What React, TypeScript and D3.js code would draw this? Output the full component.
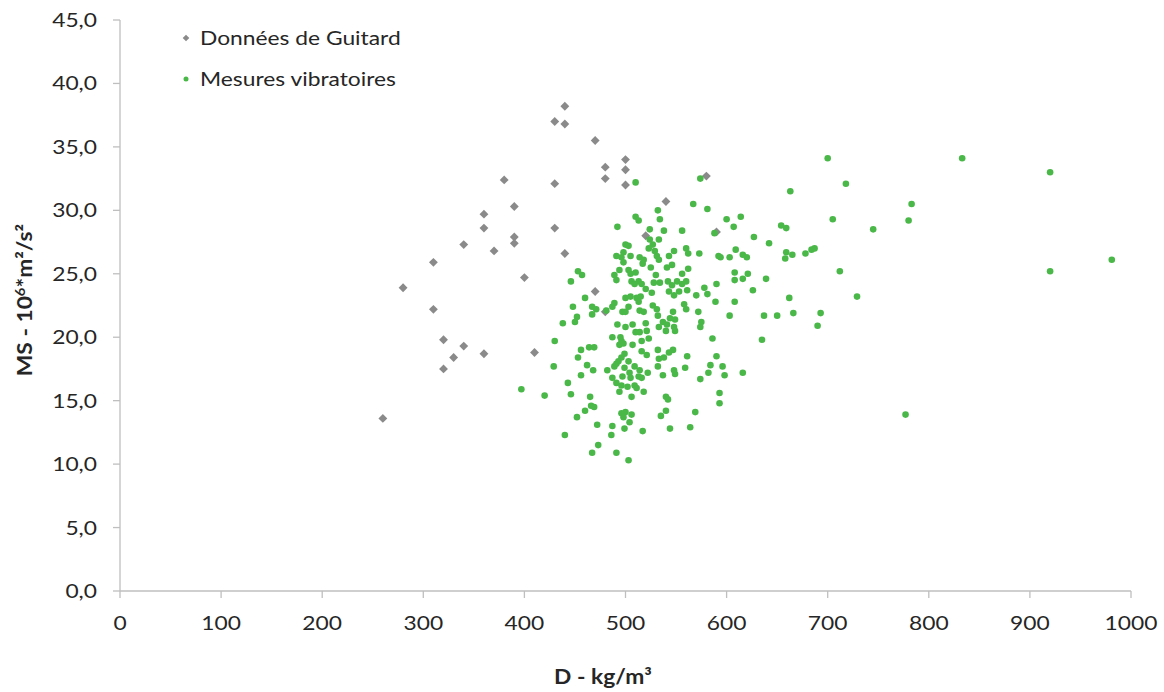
import React from "react";
import * as d3 from "d3";

const xTicks = [0, 100, 200, 300, 400, 500, 600, 700, 800, 900, 1000];
const yTicks = [0, 5, 10, 15, 20, 25, 30, 35, 40, 45];

const seriesNames = ["Données de Guitard", "Mesures vibratoires"];

const guitardPoints: [number, number][] = [
  [260, 13.6], [280, 23.9], [310, 25.9], [310, 22.2], [320, 19.8], [320, 17.5],
  [330, 18.4], [340, 19.3], [340, 27.3], [360, 29.7], [360, 28.6], [360, 18.7],
  [370, 26.8], [380, 32.4], [390, 30.3], [390, 27.9], [390, 27.4], [400, 24.7],
  [410, 18.8], [430, 37.0], [430, 32.1], [430, 28.6], [440, 38.2], [440, 36.8],
  [440, 26.6], [470, 35.5], [470, 23.6], [480, 33.4], [480, 32.5], [480, 22.0],
  [500, 34.0], [500, 33.2], [500, 32.0], [520, 28.0], [540, 30.7], [580, 32.7],
  [590, 28.3],
];

const vibratoirePoints: [number, number][] = [
  [438, 21.1], [430, 19.7], [429, 17.7], [397, 15.9], [420, 15.4], [443, 16.4], [440, 12.3],
  [510, 32.2], [574, 32.5], [567, 30.5], [581, 30.1], [532, 30.0], [510, 29.5], [513, 29.2],
  [534, 29.3], [492, 28.7], [524, 28.5], [538, 28.4], [556, 28.4], [588, 28.2], [533, 27.7],
  [524, 27.7], [500, 27.3], [503, 27.2], [527, 27.3], [523, 27.0], [529, 26.8], [498, 26.7],
  [548, 26.8], [560, 27.0], [562, 26.6], [573, 26.6], [592, 26.4], [491, 26.4], [496, 26.3],
  [505, 26.4], [531, 26.4], [543, 26.4], [514, 26.3], [518, 26.1], [533, 26.1], [498, 25.9],
  [517, 25.8], [546, 25.7], [541, 25.5], [525, 25.5], [562, 25.4], [494, 25.3], [503, 25.3],
  [510, 25.1], [453, 25.2], [457, 24.9], [556, 25.0], [530, 24.9], [489, 24.9], [491, 24.5],
  [505, 25.0], [506, 24.4], [513, 24.4], [516, 24.2], [528, 24.3], [534, 24.3], [542, 24.4],
  [546, 24.1], [551, 24.4], [556, 24.2], [560, 24.4], [590, 24.2], [509, 24.2], [520, 23.8],
  [526, 23.5], [543, 23.6], [548, 23.3], [553, 23.6], [561, 23.7], [570, 23.3], [578, 23.9],
  [581, 23.4], [446, 24.4], [460, 23.1], [500, 23.1], [505, 23.2], [511, 23.1], [515, 23.2],
  [513, 22.8], [489, 22.7], [487, 22.4], [448, 22.4], [467, 22.4], [471, 22.2], [467, 21.8],
  [481, 22.1], [497, 22.0], [500, 22.0], [503, 22.4], [514, 22.1], [518, 22.0], [527, 22.5],
  [531, 22.2], [532, 21.7], [558, 22.6], [560, 22.2], [547, 22.0], [572, 22.0], [589, 22.8],
  [452, 21.6], [450, 21.2], [492, 21.0], [500, 20.8], [507, 21.0], [514, 20.4], [520, 21.1],
  [521, 20.5], [510, 20.4], [533, 20.8], [537, 21.2], [541, 21.0], [544, 21.5], [549, 21.4],
  [548, 20.8], [549, 20.5], [540, 20.5], [575, 21.2], [574, 20.8], [487, 20.0], [495, 20.0],
  [496, 19.7], [494, 19.4], [498, 19.5], [507, 19.4], [516, 19.7], [523, 19.9], [586, 19.9],
  [456, 19.0], [464, 19.2], [469, 19.2], [453, 18.4], [516, 18.9], [521, 18.6], [532, 19.0],
  [533, 18.3], [538, 18.4], [543, 18.8], [547, 19.0], [561, 18.5], [590, 18.5], [496, 18.4],
  [493, 18.1], [503, 18.1], [499, 18.7], [489, 17.7], [491, 17.9], [482, 17.4], [499, 17.6],
  [509, 17.7], [514, 17.4], [522, 17.2], [532, 17.7], [548, 17.4], [549, 17.1], [559, 17.6],
  [584, 17.8], [582, 17.2], [462, 17.8], [468, 17.4], [456, 17.0], [487, 16.8], [497, 16.9],
  [504, 17.2], [505, 16.8], [513, 16.9], [516, 16.8], [491, 16.4], [496, 16.2], [502, 16.1],
  [509, 16.2], [511, 16.0], [537, 17.0], [574, 16.7], [446, 15.5], [494, 15.7], [518, 15.7],
  [506, 15.3], [540, 15.3], [542, 15.1], [593, 15.6], [593, 14.8], [465, 15.3], [466, 14.6],
  [469, 14.5], [460, 14.2], [452, 13.7], [496, 14.0], [500, 14.1], [498, 13.7], [506, 13.9],
  [504, 13.3], [499, 12.8], [540, 14.2], [535, 13.8], [544, 12.8], [564, 12.9], [569, 14.1],
  [472, 13.1], [487, 13.0], [486, 12.3], [517, 12.6], [473, 11.5], [467, 10.9], [491, 10.9],
  [503, 10.3],
  [700, 34.1], [663, 31.5], [705, 29.3], [600, 29.3], [614, 29.5], [607, 28.7], [627, 27.9],
  [654, 28.8], [659, 28.6], [642, 27.4], [609, 26.9], [603, 26.3], [594, 26.3], [616, 26.5],
  [620, 26.3], [659, 26.7], [665, 26.5], [658, 26.2], [678, 26.6], [684, 26.9], [687, 27.0],
  [712, 25.2], [608, 25.1], [621, 25.0], [608, 24.5], [616, 24.6], [639, 24.6], [626, 23.7],
  [662, 23.1], [608, 22.8], [603, 21.7], [637, 21.7], [650, 21.7], [666, 21.9], [693, 21.9],
  [690, 20.9], [635, 19.8], [616, 17.2], [596, 17.7], [598, 17.0],
  [833, 34.1], [920, 33.0], [718, 32.1], [783, 30.5], [780, 29.2], [745, 28.5], [981, 26.1],
  [920, 25.2], [729, 23.2], [777, 13.9],
];

const W = 1164;
const H = 692;
const left = 120;
const right = 1131;
const top = 20;
const bottom = 591;

const axisColor = "#bfbfbf";
const textColor = "#262626";
const grayColor = "#8a8a8a";
const greenColor = "#4ab848";
const font = "Lato, 'Open Sans', sans-serif";
const sx = 1.14;

export default function App() {
  const x = d3.scaleLinear().domain([0, 1000]).range([left, right]);
  const y = d3.scaleLinear().domain([0, 45]).range([bottom, top]);
  const fmt = (v: number) => v.toFixed(1).replace(".", ",");
  const diamond = d3.symbol().type(d3.symbolDiamond2).size(50)();

  return (
    <svg
      width={W}
      height={H}
      style={{ position: "absolute", left: 0, top: 0, display: "block", background: "#fff" }}
      fontFamily={font}
    >
      {/* axes */}
      <line x1={left} x2={left} y1={top} y2={bottom} stroke={axisColor} strokeWidth={1.3} />
      <line x1={left} x2={right} y1={bottom} y2={bottom} stroke={axisColor} strokeWidth={1.3} />
      {yTicks.map((t) => (
        <g key={"y" + t}>
          <line x1={left - 7} x2={left} y1={y(t)} y2={y(t)} stroke={axisColor} strokeWidth={1.3} />
          <text
            transform={`translate(97,${y(t)}) scale(${sx},1)`}
            dy="0.35em"
            textAnchor="end"
            fontSize={20}
            fill={textColor}
          >
            {fmt(t)}
          </text>
        </g>
      ))}
      {xTicks.map((t) => (
        <g key={"x" + t}>
          <line x1={x(t)} x2={x(t)} y1={bottom} y2={bottom + 7} stroke={axisColor} strokeWidth={1.3} />
          <text
            transform={`translate(${x(t)},${bottom + 39}) scale(${sx},1)`}
            textAnchor="middle"
            fontSize={20}
            fill={textColor}
          >
            {t}
          </text>
        </g>
      ))}

      {/* axis titles */}
      <text
        transform={`translate(32, 300) rotate(-90) scale(${sx},1)`}
        textAnchor="middle"
        fontSize={20}
        fontWeight="bold"
        fill={textColor}
      >
        MS - 10<tspan dy={-7} fontSize={13}>6</tspan>
        <tspan dy={7}>*m²/s²</tspan>
      </text>
      <text
        transform={`translate(603,684) scale(${sx},1)`}
        textAnchor="middle"
        fontSize={20}
        fontWeight="bold"
        fill={textColor}
      >
        D - kg/m³
      </text>

      {/* series */}
      <g>
        {guitardPoints.map((p, i) => (
          <path key={"g" + i} d={diamond!} transform={`translate(${x(p[0])},${y(p[1])})`} fill={grayColor} />
        ))}
      </g>
      <g>
        {vibratoirePoints.map((p, i) => (
          <circle key={"v" + i} cx={x(p[0])} cy={y(p[1])} r={3.3} fill={greenColor} />
        ))}
      </g>

      {/* legend */}
      <g>
        <path
          d={d3.symbol().type(d3.symbolDiamond2).size(28)()!}
          transform="translate(186,38)"
          fill={grayColor}
        />
        <text transform={`translate(200,38) scale(${sx},1)`} dy="0.35em" fontSize={20} fill={textColor}>
          {seriesNames[0]}
        </text>
        <circle cx={186} cy={79} r={2.5} fill={greenColor} />
        <text transform={`translate(200,79) scale(${sx},1)`} dy="0.35em" fontSize={20} fill={textColor}>
          {seriesNames[1]}
        </text>
      </g>
    </svg>
  );
}
